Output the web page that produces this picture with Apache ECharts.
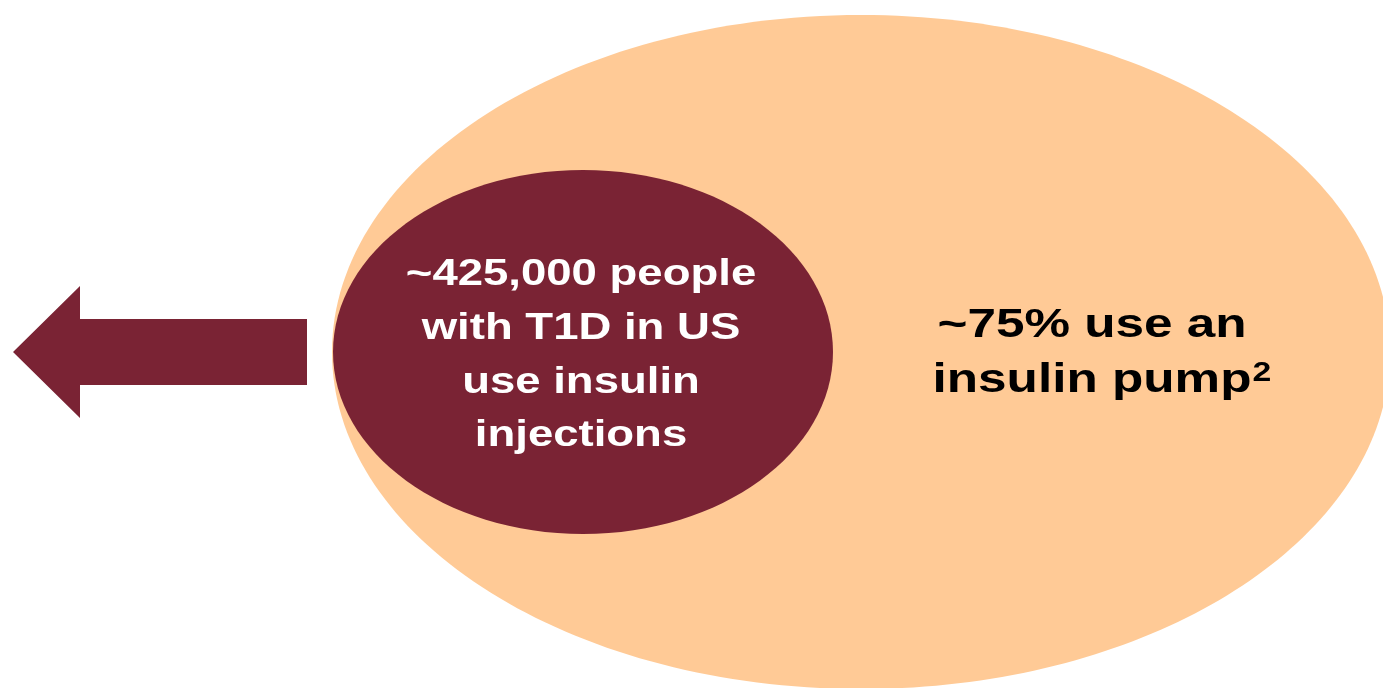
<!DOCTYPE html>
<html>
<head>
<meta charset="utf-8">
<script src="https://cdn.jsdelivr.net/npm/echarts@6/dist/echarts.min.js"></script>
<style>
  html, body { margin: 0; padding: 0; background: #ffffff; }
  #chart { width: 1383px; height: 688px; }
</style>
</head>
<body>
<div id="chart"></div>
<script>
// Figures stated in the diagram
const t1dInjectionUsers = 425000;
const pumpSharePct = 75;
const footnoteMark = '2';

// Text lines of the two regions
const injectionLines = [
  '~' + t1dInjectionUsers.toLocaleString('en-US') + ' people',
  'with T1D in US',
  'use insulin',
  'injections'
];
const pumpLines = ['~' + pumpSharePct + '% use an', 'insulin pump'];

// Layout, in units of the hidden axes (one unit per pixel)
const W = 1383, H = 688;
const outerEllipse = { cx: 861, cy: 352, rx: 529, ry: 337 };
const innerEllipse = { cx: 583, cy: 352, rx: 250, ry: 182 };
const arrowShape = { tipX: 13, headX: 80, tailX: 307, midY: 352, headHalf: 66, shaftHalf: 33 };
const injectionText = { x: 581, y0: 275, step: 53.7, size: 37, stretch: 1.23 };
const pumpText = { x: 1092, y0: 326, step: 55, size: 41, stretch: 1.25 };

const peach = '#FFCA96';
const maroon = '#7A2334';
const fontFamily = '"Liberation Sans", Arial, sans-serif';

const measureCtx = document.createElement('canvas').getContext('2d');
function textWidth(str, font) {
  measureCtx.font = font;
  return measureCtx.measureText(str).width;
}

function ellipseSeries(e, color, z) {
  return {
    type: 'custom',
    coordinateSystem: 'cartesian2d',
    z: z,
    silent: true,
    data: [[e.cx, e.cy]],
    renderItem: function (params, api) {
      const c = api.coord([api.value(0), api.value(1)]);
      const s = api.size([e.rx, e.ry]);
      return {
        type: 'ellipse',
        shape: { cx: c[0], cy: c[1], rx: Math.abs(s[0]), ry: Math.abs(s[1]) },
        style: { fill: color }
      };
    }
  };
}

function arrowSeries(a, color, z) {
  const pts = [
    [a.tipX, a.midY],
    [a.headX, a.midY - a.headHalf],
    [a.headX, a.midY - a.shaftHalf],
    [a.tailX, a.midY - a.shaftHalf],
    [a.tailX, a.midY + a.shaftHalf],
    [a.headX, a.midY + a.shaftHalf],
    [a.headX, a.midY + a.headHalf]
  ];
  return {
    type: 'custom',
    coordinateSystem: 'cartesian2d',
    z: z,
    silent: true,
    data: [[a.tipX, a.midY]],
    renderItem: function (params, api) {
      return {
        type: 'polygon',
        shape: { points: pts.map(function (p) { return api.coord(p); }) },
        style: { fill: color }
      };
    }
  };
}

function textSeries(lines, t, color, z, sup) {
  const font = 'bold ' + t.size + 'px ' + fontFamily;
  return {
    type: 'custom',
    coordinateSystem: 'cartesian2d',
    z: z,
    silent: true,
    data: lines.map(function (_, i) { return [t.x, t.y0 + i * t.step]; }),
    renderItem: function (params, api) {
      const i = params.dataIndex;
      const p = api.coord([api.value(0), api.value(1)]);
      const children = [{
        type: 'text',
        x: p[0], y: p[1],
        scaleX: t.stretch,
        style: {
          text: lines[i], fill: color, font: font,
          align: 'center', verticalAlign: 'middle'
        }
      }];
      if (sup && i === lines.length - 1) {
        const half = textWidth(lines[i], font) * t.stretch / 2;
        children.push({
          type: 'text',
          x: p[0] + half + 1, y: p[1] - 7,
          scaleX: t.stretch,
          style: {
            text: sup, fill: color, font: 'bold 27px ' + fontFamily,
            align: 'left', verticalAlign: 'middle'
          }
        });
      }
      return { type: 'group', children: children };
    }
  };
}

const chart = echarts.init(document.getElementById('chart'), null, { renderer: 'canvas' });
chart.setOption({
  animation: false,
  backgroundColor: '#ffffff',
  grid: { left: 0, right: 0, top: 0, bottom: 0 },
  xAxis: { type: 'value', min: 0, max: W, show: false },
  yAxis: { type: 'value', min: 0, max: H, inverse: true, show: false },
  series: [
    ellipseSeries(outerEllipse, peach, 1),
    ellipseSeries(innerEllipse, maroon, 2),
    arrowSeries(arrowShape, maroon, 2),
    textSeries(injectionLines, injectionText, '#ffffff', 3),
    textSeries(pumpLines, pumpText, '#000000', 3, footnoteMark)
  ]
});
</script>
</body>
</html>
